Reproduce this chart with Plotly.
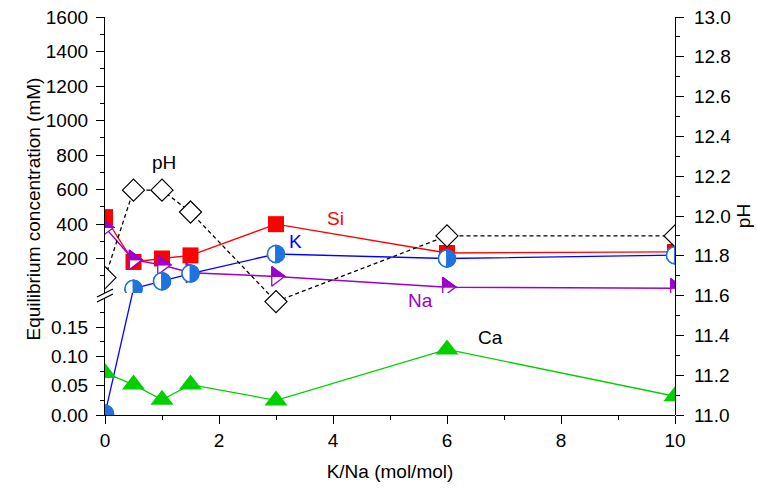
import math
import plotly.graph_objects as go

# ---------------- data ----------------
ratio = [0, 0.5, 1, 1.5, 3, 6, 10]                      # K/Na (mol/mol)
si = [440, 180, 200, 218, 399, 232, 238]                 # mM
k = [0.002, 25, 68, 113, 226, 200, 219]                  # mM
na = [380, 192, 162, 117, 96, 34, 27]                    # mM
ca = [0.072, 0.052, 0.026, 0.052, 0.025, 0.112, 0.032]   # mM
ph = [11.69, 12.13, 12.13, 12.02, 11.57, 11.90, 11.90]

x_ticks = [0, 2, 4, 6, 8, 10]
low_ticks = [0.00, 0.05, 0.10, 0.15]
low_minor = [0.025, 0.075, 0.125, 0.175]
high_ticks = [200, 400, 600, 800, 1000, 1200, 1400, 1600]
high_minor = [100, 300, 500, 700, 900, 1100, 1300, 1500]

# ---------------- geometry / style ----------------
W, H = 757, 488
ML, MR, MT, MB = 105, 82, 17, 73
PW, PH = W - ML - MR, H - MT - MB
LOW_RANGE = [0, 0.2]
HIGH_RANGE = [0, 1600]
PH_RANGE = [11, 13]
LOW_DOM = [0, 117 / PH]
HIGH_DOM = [122 / PH, 1]

FONT = "Liberation Sans, Arial, sans-serif"
FS = 19
RED = "#ff0000"
BLUE_LINE = "#0000ff"
K_COL = "#1e74dc"
PURPLE = "#9b00cc"
GREEN = "#00d000"
AXW = 1.3

NA_SIZE = 17
K_SIZE = 17


def axis_of(v):
    return "y" if v <= LOW_RANGE[1] else "y2"


def paper_y(v):
    if axis_of(v) == "y":
        lo, hi, rng = LOW_DOM[0], LOW_DOM[1], LOW_RANGE
    else:
        lo, hi, rng = HIGH_DOM[0], HIGH_DOM[1], HIGH_RANGE
    return lo + (v - rng[0]) / (rng[1] - rng[0]) * (hi - lo)


fig = go.Figure()
shapes_below = []
shapes_above = []


def add_series(xs, vals, line, marker):
    runs = []
    for xv, v in zip(xs, vals):
        ax = axis_of(v)
        if runs and runs[-1][0] == ax:
            runs[-1][1].append(xv)
            runs[-1][2].append(v)
        else:
            runs.append([ax, [xv], [v]])
    for i, (ax, rx, rv) in enumerate(runs):
        fig.add_trace(go.Scatter(x=rx, y=rv, yaxis=ax, mode="lines+markers",
                                 line=line, marker=marker, showlegend=False,
                                 hoverinfo="x+y"))
        if i > 0:
            px, pv = runs[i - 1][1][-1], runs[i - 1][2][-1]
            shapes_below.append(dict(type="line", xref="x", yref="paper",
                                     x0=px, y0=paper_y(pv), x1=rx[0], y1=paper_y(rv[0]),
                                     line=dict(color=line["color"], width=line["width"]),
                                     layer="below"))


# Si
add_series(ratio, si, dict(color=RED, width=1.3),
           dict(symbol="square", size=16, color=RED, line=dict(width=0)))
# Na (outline triangles, top half filled by overlay shapes)
add_series(ratio, na, dict(color=PURPLE, width=1.5),
           dict(symbol="triangle-right", size=NA_SIZE, color="white",
                line=dict(color=PURPLE, width=1.3)))
# K
add_series(ratio, k, dict(color=BLUE_LINE, width=1.3),
           dict(symbol="circle", size=K_SIZE, color="white",
                line=dict(color=K_COL, width=1.5)))
# Ca
add_series(ratio, ca, dict(color=GREEN, width=1.3),
           dict(symbol="triangle-up", size=20, color=GREEN, line=dict(width=0)))
# pH on the right axis
fig.add_trace(go.Scatter(x=ratio, y=ph, yaxis="y3", mode="lines+markers",
                         line=dict(color="black", width=1.3, dash="4px,3px"),
                         marker=dict(symbol="diamond", size=17, color="white",
                                     line=dict(color="black", width=1.2)),
                         showlegend=False))

# half-filled marker overlays
r = NA_SIZE / 2
rt = r * 2 / math.sqrt(3)
tri_top = f"M{-r / 2:.2f},{rt:.2f} L{rt:.2f},0 L{-r / 2:.2f},0 Z"
for xv, v in zip(ratio, na):
    shapes_above.append(dict(type="path", xref="x", yref=axis_of(v),
                             xsizemode="pixel", ysizemode="pixel",
                             xanchor=xv, yanchor=v, path=tri_top,
                             fillcolor=PURPLE, line=dict(color=PURPLE, width=1),
                             layer="above"))

rc = K_SIZE / 2
c = 0.5523 * rc
left_half = (f"M0,{rc} C{-c:.2f},{rc} {-rc},{c:.2f} {-rc},0 "
             f"C{-rc},{-c:.2f} {-c:.2f},{-rc} 0,{-rc} Z")
right_half = (f"M0,{rc} C{c:.2f},{rc} {rc},{c:.2f} {rc},0 "
              f"C{rc},{-c:.2f} {c:.2f},{-rc} 0,{-rc} Z")
for xv, v in zip(ratio, k):
    common = dict(type="path", xref="x", yref=axis_of(v), xsizemode="pixel",
                  ysizemode="pixel", xanchor=xv, yanchor=v, layer="above")
    shapes_above.append(dict(common, path=left_half, fillcolor="white",
                             line=dict(color=K_COL, width=1.5)))
    shapes_above.append(dict(common, path=right_half, fillcolor=K_COL,
                             line=dict(color=K_COL, width=1.5)))


# axis-break marks on the left axis
def px_to_paper(px, py):
    return (px - ML) / PW, (H - MB - py) / PH


gap_py = H - MB - (LOW_DOM[1] + HIGH_DOM[0]) / 2 * PH
for off in (2.5, -2.5):
    x0, y0 = px_to_paper(ML - 8, gap_py + off + 4)
    x1, y1 = px_to_paper(ML + 8, gap_py + off - 4)
    shapes_above.append(dict(type="line", xref="paper", yref="paper",
                             x0=x0, y0=y0, x1=x1, y1=y1,
                             line=dict(color="black", width=AXW), layer="above"))

tick_font = dict(family=FONT, size=FS, color="black")
common_axis = dict(showgrid=False, zeroline=False, showline=True, linecolor="black",
                   linewidth=AXW, ticks="outside", ticklen=8, tickwidth=AXW,
                   tickcolor="black", tickfont=tick_font, automargin=False)
minor_common = dict(ticks="outside", ticklen=4, tickwidth=AXW, tickcolor="black")

# series labels (placed on the pH scale)
labels = [
    ("pH", 1.035, 12.27, "black"),
    ("Si", 4.05, 11.988, RED),
    ("K", 3.34, 11.871, BLUE_LINE),
    ("Na", 5.54, 11.573, PURPLE),
    ("Ca", 6.77, 11.39, "black"),
]
annotations = [dict(text=t, x=xv, y=yv, xref="x", yref="y3", showarrow=False,
                    font=dict(family=FONT, size=FS, color=col))
               for t, xv, yv, col in labels]
tx, ty = px_to_paper(20, 209)
annotations.append(dict(text="Equilibrium concentration (mM)", x=tx, y=ty,
                        xref="paper", yref="paper", showarrow=False, textangle=-90,
                        font=dict(family=FONT, size=FS, color="black")))

fig.update_layout(
    width=W, height=H,
    margin=dict(l=ML, r=MR, t=MT, b=MB, pad=0, autoexpand=False),
    paper_bgcolor="white", plot_bgcolor="rgba(0,0,0,0)",
    font=dict(family=FONT, size=FS, color="black"),
    showlegend=False,
    xaxis=dict(common_axis, range=[0, 10], tickvals=x_ticks, anchor="y",
               minor=dict(minor_common, dtick=1, tick0=0),
               title=dict(text="K/Na (mol/mol)", font=tick_font, standoff=14)),
    yaxis=dict(common_axis, domain=LOW_DOM, range=LOW_RANGE, anchor="x",
               tickvals=low_ticks, tickformat=".2f", ticklabelstandoff=4,
               minor=dict(minor_common, tickvals=low_minor)),
    yaxis2=dict(common_axis, domain=HIGH_DOM, range=HIGH_RANGE, anchor="x",
                tickvals=high_ticks, ticklabelstandoff=4,
                minor=dict(minor_common, tickvals=high_minor)),
    yaxis3=dict(common_axis, domain=[0, 1], range=PH_RANGE, anchor="x", side="right",
                dtick=0.2, tick0=11, tickformat=".1f", ticklabelstandoff=6,
                minor=dict(minor_common, dtick=0.1, tick0=11),
                title=dict(text="pH", font=tick_font, standoff=6)),
    shapes=shapes_below + shapes_above,
    annotations=annotations,
)

fig.write_html("out.html")
